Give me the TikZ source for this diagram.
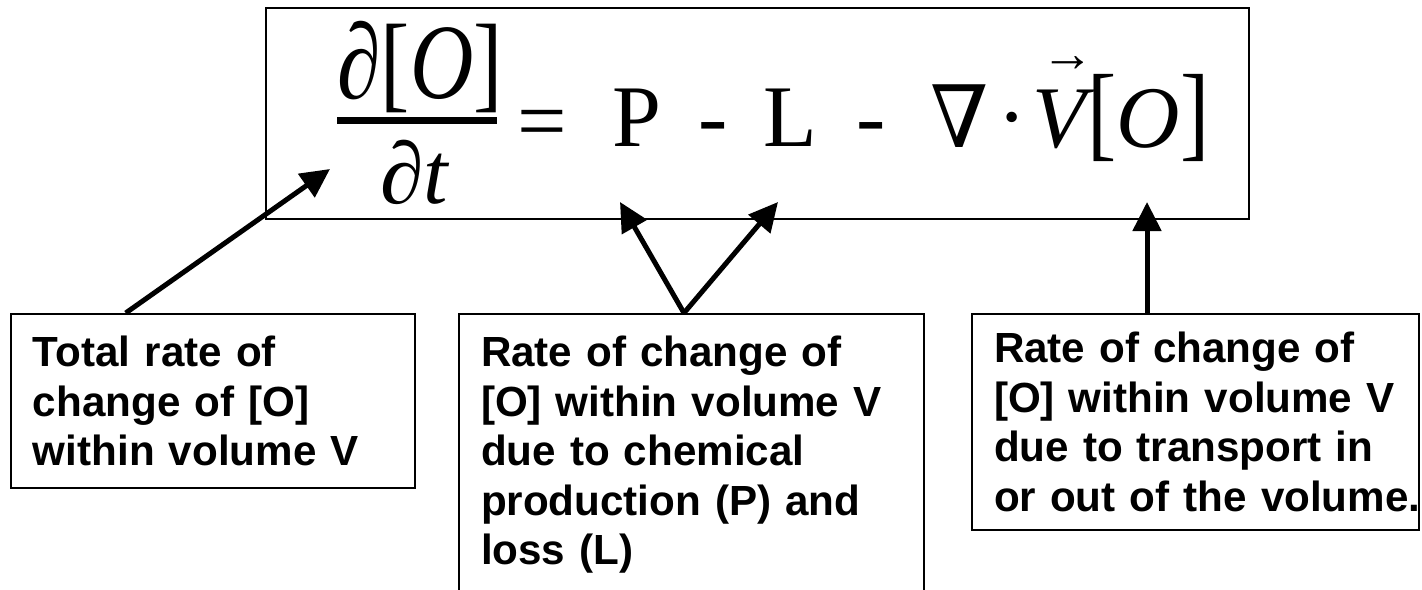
\documentclass[tikz,border=0pt]{standalone}
\usepackage{fontspec}
\usepackage{amsmath}
\usepackage{graphicx}
\usetikzlibrary{arrows.meta, positioning, calc}
\newfontfamily\labelfont{Liberation Sans}
\newfontfamily\eqfont{Liberation Serif}
\newfontfamily\nablafont{DejaVu Serif}

\begin{document}
\begin{tikzpicture}[
		x=0.02cm, y=-0.02cm,
		frame/.style={draw, line width=0.04cm, inner sep=0pt, anchor=north west},
		labelbox/.style={draw, line width=0.04cm, anchor=north west, align=left,
			inner xsep=0.44cm, inner ysep=0.44cm,
			font=\labelfont\bfseries\fontsize{24}{28.2}\selectfont},
		eqtxt/.style={inner sep=0pt, anchor=base west, font=\eqfont\fontsize{50}{60}\selectfont},
		arr/.style={-{Triangle[length=0.58cm, width=0.56cm]}, line width=0.1cm},
	]
		\useasboundingbox (0,0) rectangle (1422,589);

		% Equation
		\node[frame, minimum width=19.66cm, minimum height=4.22cm] (eqbox) at (265,7) {};
		\node[eqtxt] (num) at (337,98) {\scalebox{1}[1.22]{∂[\textit{O}]}};
		\node[eqtxt] (den) at (380,203) {∂\textit{t}};
		\draw[line width=0.14cm] (num.west |- 0,120.5) -- (497,120.5);
		\node[eqtxt] (eqsign) at (517,150) {=};
		\node[eqtxt] (prod) at (612,146) {P};
		\node[eqtxt] (minusa) at (698,146) {-};
		\node[eqtxt] (loss) at (763,146) {L};
		\node[eqtxt] (minusb) at (856,146) {-};
		\node[eqtxt, anchor=base] (nabla) at (960,147) {\nablafont\scalebox{0.95}[0.98]{∇}};
		\node[eqtxt, anchor=base] (dot) at (1012,146) {·};
		\node[eqtxt] (vel) at (1032,147) {\textit{V}};
		\node[eqtxt, anchor=base, font=\eqfont\fontsize{30}{36}\selectfont] (velarrow) at (1068,71) {→};
		\node[eqtxt] (conc) at (1087,147) {\scalebox{1}[1.2]{[}\textit{O}\scalebox{1}[1.2]{]}};

		% Explanations
		\node[labelbox, text width=7.2cm] (total) at (10,313) {Total rate of\\change of [O]\\within volume V};
		\node[labelbox, text width=8.42cm] (chem) at (458,313) {Rate of change of\\[0pt][O] within volume V\\due to chemical\\production (P) and\\loss (L)};
		\node[labelbox, text width=8.06cm, inner ysep=0.36cm] (transp) at (971,313) {Rate of change of\\[0pt][O] within volume V\\due to transport in\\\mbox{or out of the volume.}};

		% Arrows
		\coordinate (tipdt) at (330,169);
		\coordinate (tipP) at (620,202);
		\coordinate (tipL) at (778,202);
		\coordinate (tipO) at (1147,202);
		\draw[arr] ($(total.north west)!0.285!(total.north east)$) -- (tipdt);
		\draw[arr] ($(chem.north west)!0.484!(chem.north east)$) -- (tipP);
		\draw[arr] ($(chem.north west)!0.484!(chem.north east)$) -- (tipL);
		\draw[arr] (tipO |- transp.north) -- (tipO);
	\end{tikzpicture}
\end{document}
